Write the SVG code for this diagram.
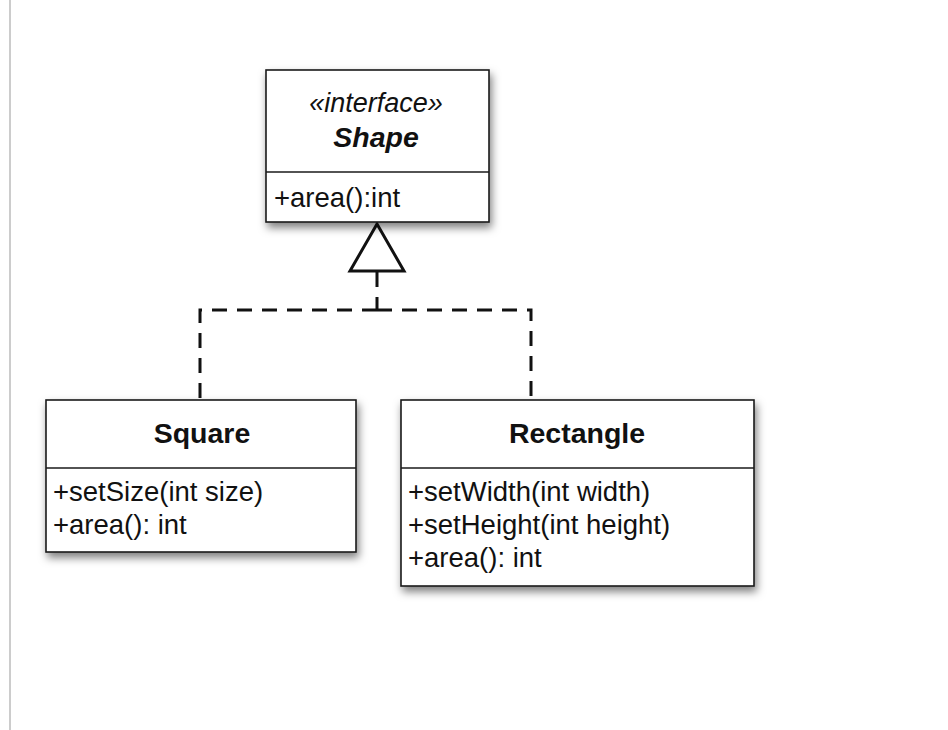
<svg xmlns="http://www.w3.org/2000/svg" width="948" height="730" viewBox="0 0 948 730">
  <style>
    .box { fill: #ffffff; stroke: #1a1a1a; stroke-width: 1.6; }
    .sep { stroke: #1a1a1a; stroke-width: 1.6; }
    .t { font-family: "Liberation Sans", Arial, Helvetica, sans-serif; font-size: 27.5px; fill: #111111; }
    .title { font-family: "Liberation Sans", Arial, Helvetica, sans-serif; font-size: 28.5px; font-weight: bold; fill: #111111; text-anchor: middle; }
    .stereo { font-family: "Liberation Sans", Arial, Helvetica, sans-serif; font-size: 27px; font-style: italic; fill: #111111; text-anchor: middle; }
    .dash { fill: none; stroke: #111111; stroke-width: 3; stroke-dasharray: 15 10; }
    .tri { fill: #ffffff; stroke: #111111; stroke-width: 3; stroke-linejoin: miter; }
  </style>
  <defs>
    <filter id="shadow" x="-10%" y="-10%" width="125%" height="130%">
      <feDropShadow dx="2" dy="5" stdDeviation="4" flood-color="#000000" flood-opacity="0.5"/>
    </filter>
  </defs>
  <rect width="948" height="730" fill="#ffffff"/>
  <rect x="9" y="0" width="2" height="730" fill="#cccccc"/>

  <g id="connectors">
    <path class="dash" d="M377 272 L377 310"/>
    <path class="dash" d="M377 310 L200 310 L200 400"/>
    <path class="dash" d="M377 310 L531 310 L531 400"/>
    <polygon class="tri" points="377,224 350,271 404,271"/>
  </g>

  <g id="shape">
    <rect class="box" x="266" y="70" width="223" height="152" filter="url(#shadow)"/>
    <line class="sep" x1="266" y1="172" x2="489" y2="172"/>
    <text class="stereo" x="376" y="112">«interface»</text>
    <text class="title" x="376" y="147" font-style="italic" font-size="28px">Shape</text>
    <text class="t" x="274" y="207" font-size="27px">+area():int</text>
  </g>

  <g id="square">
    <rect class="box" x="46" y="400" width="310" height="152" filter="url(#shadow)"/>
    <line class="sep" x1="46" y1="468" x2="356" y2="468"/>
    <text class="title" x="202" y="443">Square</text>
    <text class="t" x="53" y="501">+setSize(int size)</text>
    <text class="t" x="53" y="534">+area(): int</text>
  </g>

  <g id="rectangle">
    <rect class="box" x="401" y="400" width="353" height="186" filter="url(#shadow)"/>
    <line class="sep" x1="401" y1="468" x2="754" y2="468"/>
    <text class="title" x="577" y="443">Rectangle</text>
    <text class="t" x="408" y="501">+setWidth(int width)</text>
    <text class="t" x="408" y="534">+setHeight(int height)</text>
    <text class="t" x="408" y="567">+area(): int</text>
  </g>
</svg>
